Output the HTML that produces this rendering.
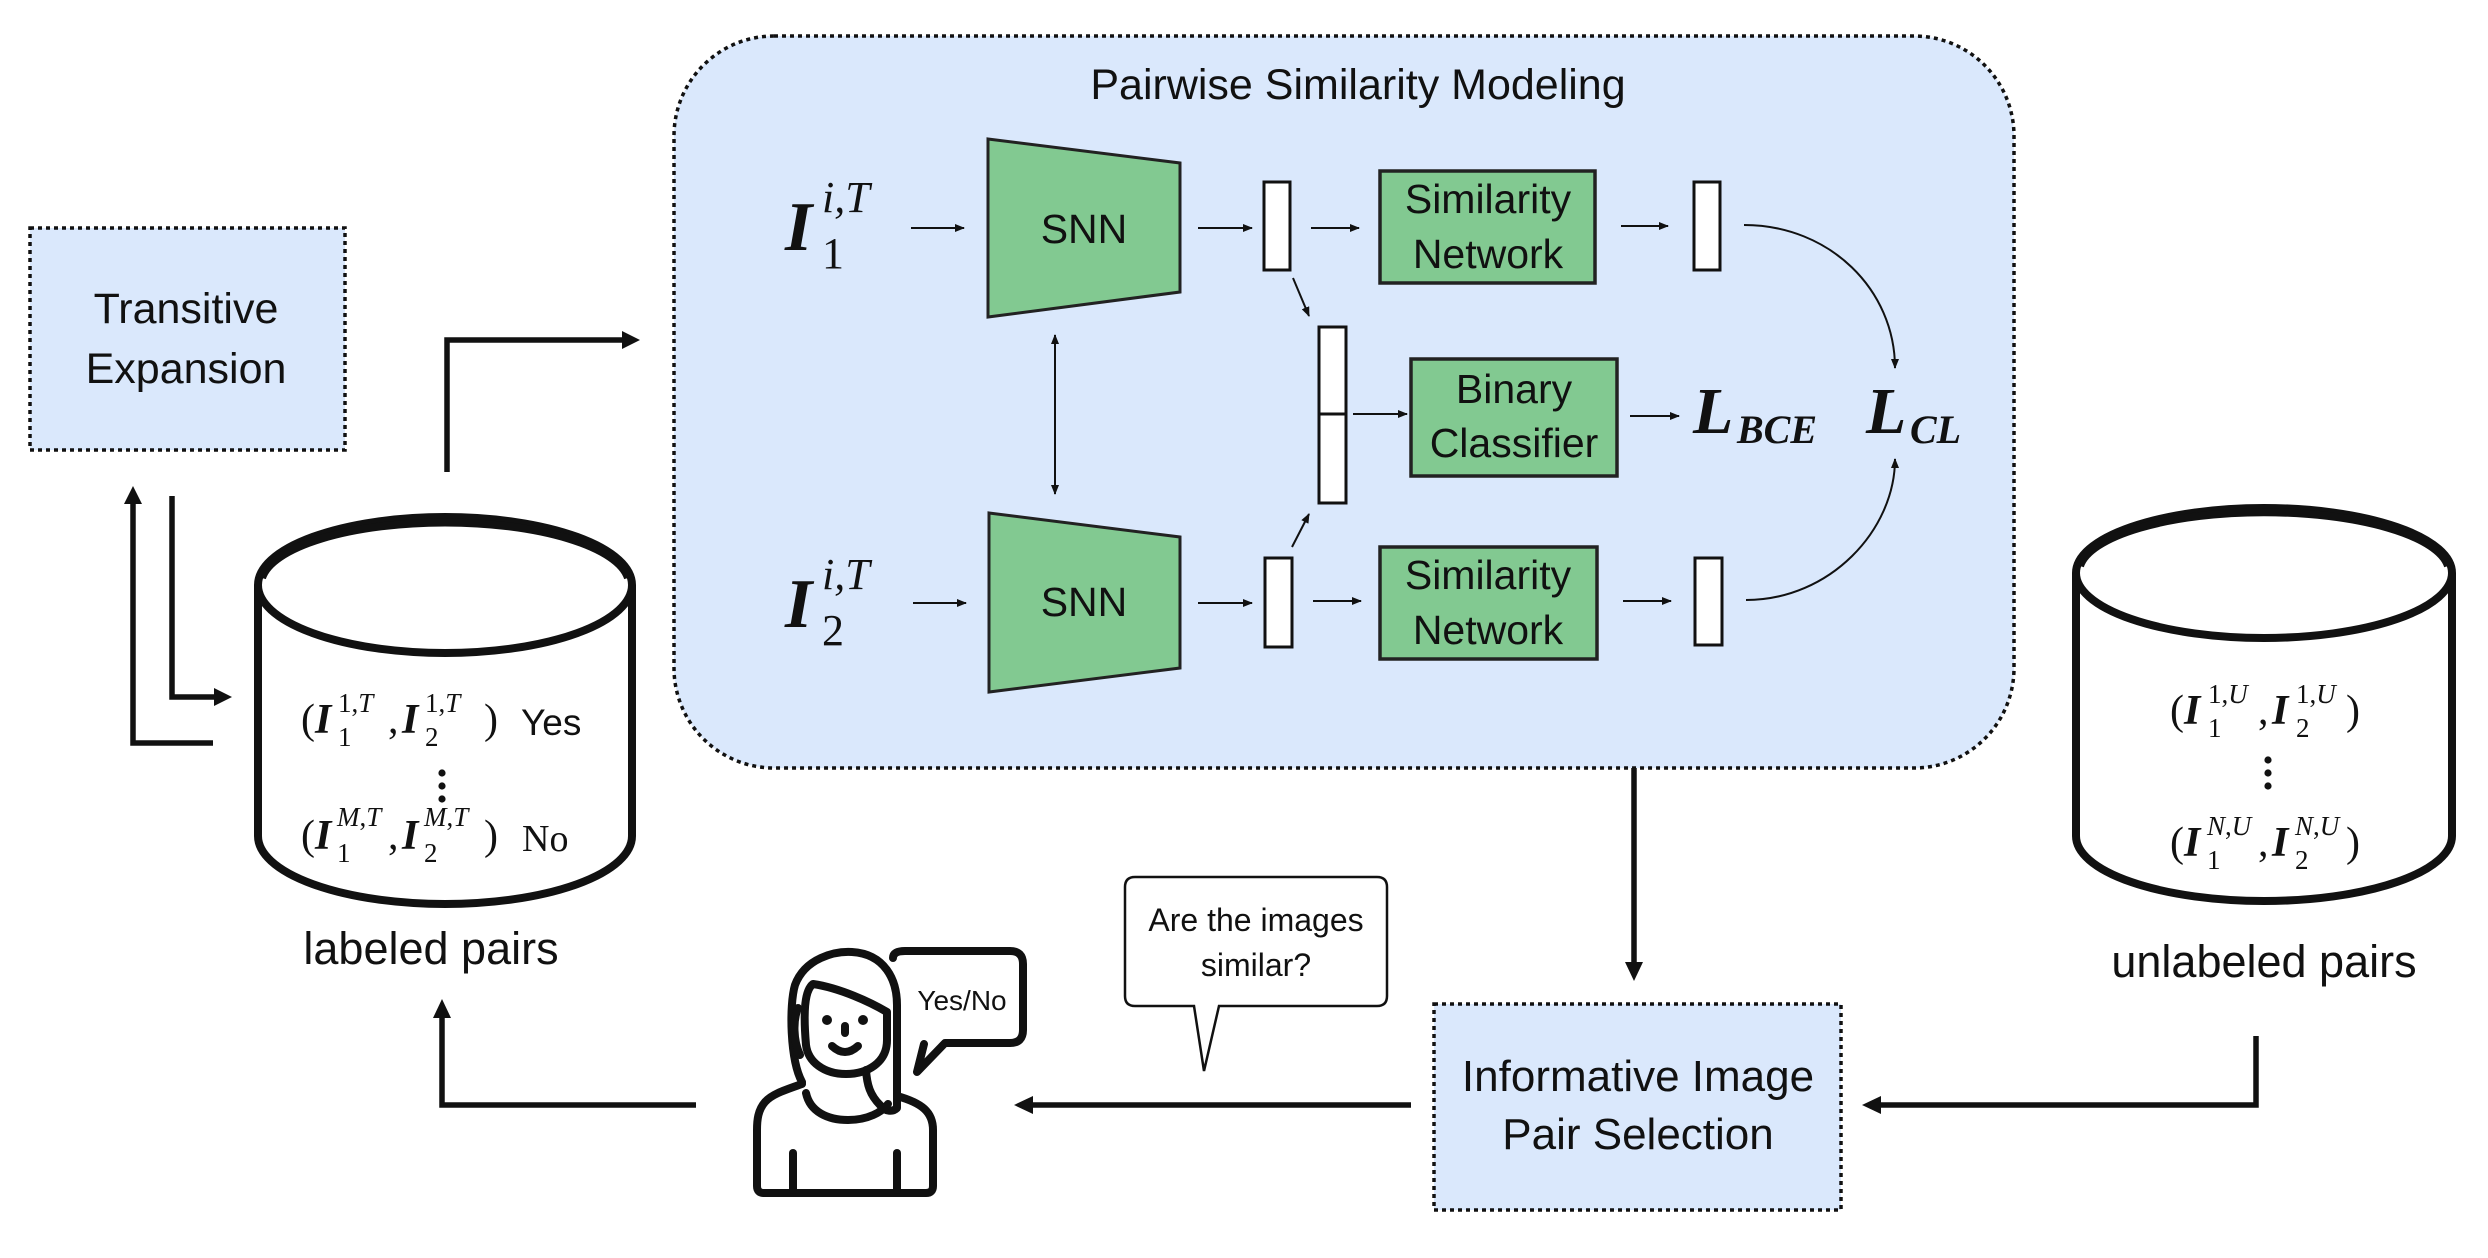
<!DOCTYPE html>
<html><head><meta charset="utf-8"><style>
html,body{margin:0;padding:0;background:#fff;}
svg{display:block;}
.s{font-family:"Liberation Sans",sans-serif;fill:#111;}
.m{font-family:"Liberation Serif",serif;fill:#111;}
.bi{font-family:"Liberation Serif",serif;font-weight:bold;font-style:italic;fill:#111;}
.it{font-family:"Liberation Serif",serif;font-style:italic;fill:#111;}
</style></head><body>
<svg width="2488" height="1258" viewBox="0 0 2488 1258" xmlns="http://www.w3.org/2000/svg">
<defs>
<marker id="a" markerWidth="10" markerHeight="8" refX="9" refY="4" orient="auto" markerUnits="userSpaceOnUse">
<path d="M0,0 L10,4 L0,8 Z" fill="#111"/></marker>
<marker id="as" markerWidth="10" markerHeight="8" refX="1" refY="4" orient="auto" markerUnits="userSpaceOnUse">
<path d="M10,0 L0,4 L10,8 Z" fill="#111"/></marker>
</defs>

<rect x="674" y="36" width="1340" height="732" rx="100" fill="#dae8fc" stroke="#111" stroke-width="3.5" stroke-dasharray="4 4"/>
<text x="1358" y="99" class="s" font-size="43" text-anchor="middle">Pairwise Similarity Modeling</text>

<rect x="30" y="228" width="315" height="222" fill="#dae8fc" stroke="#111" stroke-width="3.5" stroke-dasharray="4 4"/>
<text x="186" y="323" class="s" font-size="43" text-anchor="middle">Transitive</text>
<text x="186" y="383" class="s" font-size="43" text-anchor="middle">Expansion</text>

<rect x="1434" y="1004" width="407" height="206" fill="#dae8fc" stroke="#111" stroke-width="3.5" stroke-dasharray="4 4"/>
<text x="1638" y="1091" class="s" font-size="44" text-anchor="middle">Informative Image</text>
<text x="1638" y="1149" class="s" font-size="44" text-anchor="middle">Pair Selection</text>

<polygon points="988,139 1180,163 1180,292 988,317" fill="#82c991" stroke="#222" stroke-width="3"/>
<text x="1084" y="243" class="s" font-size="41" text-anchor="middle">SNN</text>
<polygon points="989,513 1180,537 1180,668 989,692" fill="#82c991" stroke="#222" stroke-width="3"/>
<text x="1084" y="616" class="s" font-size="41" text-anchor="middle">SNN</text>

<text x="785" y="250" class="bi" font-size="70">I</text>
<text x="822" y="212" class="it" font-size="44">i,T</text>
<text x="822" y="268" class="m" font-size="44">1</text>
<text x="785" y="627" class="bi" font-size="70">I</text>
<text x="822" y="589" class="it" font-size="44">i,T</text>
<text x="822" y="645" class="m" font-size="44">2</text>

<g stroke="#111" stroke-width="2" fill="none">
<line x1="911" y1="228" x2="964" y2="228" marker-end="url(#a)"/>
<line x1="913" y1="603" x2="966" y2="603" marker-end="url(#a)"/>
<line x1="1055" y1="335" x2="1055" y2="494" marker-end="url(#a)" marker-start="url(#as)"/>
<line x1="1198" y1="228" x2="1252" y2="228" marker-end="url(#a)"/>
<line x1="1198" y1="603" x2="1252" y2="603" marker-end="url(#a)"/>
<line x1="1311" y1="228" x2="1359" y2="228" marker-end="url(#a)"/>
<line x1="1313" y1="601" x2="1361" y2="601" marker-end="url(#a)"/>
<line x1="1621" y1="226" x2="1668" y2="226" marker-end="url(#a)"/>
<line x1="1623" y1="601" x2="1671" y2="601" marker-end="url(#a)"/>
<line x1="1293" y1="278" x2="1309" y2="316" marker-end="url(#a)"/>
<line x1="1292" y1="547" x2="1309" y2="514" marker-end="url(#a)"/>
<line x1="1353" y1="414" x2="1407" y2="414" marker-end="url(#a)"/>
<line x1="1630" y1="416" x2="1679" y2="416" marker-end="url(#a)"/>
<path d="M1744,225 C1830,225 1895,290 1895,368" marker-end="url(#a)"/>
<path d="M1746,600 C1830,600 1895,530 1895,459" marker-end="url(#a)"/>
</g>

<g fill="#fff" stroke="#111" stroke-width="3">
<rect x="1264" y="182" width="26" height="88"/>
<rect x="1265" y="558" width="27" height="89"/>
<rect x="1694" y="182" width="26" height="88"/>
<rect x="1695" y="558" width="27" height="87"/>
<rect x="1319" y="327" width="27" height="176"/>
<line x1="1319" y1="414" x2="1346" y2="414"/>
</g>

<rect x="1380" y="171" width="215" height="112" fill="#82c991" stroke="#222" stroke-width="3.5"/>
<text x="1488" y="213" class="s" font-size="41" text-anchor="middle">Similarity</text>
<text x="1488" y="268" class="s" font-size="41" text-anchor="middle">Network</text>
<rect x="1380" y="547" width="217" height="112" fill="#82c991" stroke="#222" stroke-width="3.5"/>
<text x="1488" y="589" class="s" font-size="41" text-anchor="middle">Similarity</text>
<text x="1488" y="644" class="s" font-size="41" text-anchor="middle">Network</text>
<rect x="1411" y="359" width="206" height="117" fill="#82c991" stroke="#222" stroke-width="3.5"/>
<text x="1514" y="403" class="s" font-size="41" text-anchor="middle">Binary</text>
<text x="1514" y="457" class="s" font-size="41" text-anchor="middle">Classifier</text>

<text x="1693" y="433" class="bi" font-size="66">L</text>
<text x="1737" y="443" class="bi" font-size="40">BCE</text>
<text x="1866" y="433" class="bi" font-size="66">L</text>
<text x="1910" y="443" class="bi" font-size="40">CL</text>

<g stroke="#111" stroke-width="5.5" fill="none">
<polyline points="213,743 133,743 133,500"/>
<polyline points="172,496 172,697 216,697"/>
<polyline points="447,472 447,340 624,340"/>
<line x1="1634" y1="768" x2="1634" y2="964"/>
<polyline points="2256,1036 2256,1105 1880,1105"/>
<line x1="1411" y1="1105" x2="1030" y2="1105"/>
<polyline points="696,1105 442,1105 442,1015"/>
</g>
<g fill="#111">
<polygon points="133,486 124,504 142,504"/>
<polygon points="232,697 214,688 214,706"/>
<polygon points="640,340 622,331 622,349"/>
<polygon points="1634,981 1625,962 1643,962"/>
<polygon points="1862,1105 1881,1096 1881,1114"/>
<polygon points="1014,1105 1033,1096 1033,1114"/>
<polygon points="442,999 433,1018 451,1018"/>
</g>

<path d="M258,585 L258,836 A187,68 0 0 0 632,836 L632,585" fill="#fff" stroke="#111" stroke-width="8"/>
<ellipse cx="445" cy="585" rx="187" ry="68" fill="#fff" stroke="#111" stroke-width="8"/>
<path d="M262,578 A184,62 0 0 1 628,578" fill="none" stroke="#111" stroke-width="8"/>
<g>
<text x="301" y="733" class="m" font-size="42">(</text>
<text x="315" y="733" class="bi" font-size="42">I</text>
<text x="338" y="712" class="m" font-size="27">1,<tspan font-style="italic">T</tspan></text>
<text x="338" y="746" class="m" font-size="27">1</text>
<text x="388" y="733" class="m" font-size="42">,</text>
<text x="402" y="733" class="bi" font-size="42">I</text>
<text x="425" y="712" class="m" font-size="27">1,<tspan font-style="italic">T</tspan></text>
<text x="425" y="746" class="m" font-size="27">2</text>
<text x="484" y="733" class="m" font-size="42">)</text>
<text x="521" y="735" class="s" font-size="37">Yes</text>
<circle cx="442" cy="773" r="3.6" fill="#111"/>
<circle cx="442" cy="786" r="3.6" fill="#111"/>
<circle cx="442" cy="799" r="3.6" fill="#111"/>
<text x="301" y="849" class="m" font-size="42">(</text>
<text x="315" y="849" class="bi" font-size="42">I</text>
<text x="337" y="826" class="m" font-size="27"><tspan font-style="italic">M</tspan>,<tspan font-style="italic">T</tspan></text>
<text x="337" y="862" class="m" font-size="27">1</text>
<text x="388" y="849" class="m" font-size="42">,</text>
<text x="402" y="849" class="bi" font-size="42">I</text>
<text x="424" y="826" class="m" font-size="27"><tspan font-style="italic">M</tspan>,<tspan font-style="italic">T</tspan></text>
<text x="424" y="862" class="m" font-size="27">2</text>
<text x="484" y="849" class="m" font-size="42">)</text>
<text x="522" y="851" class="m" font-size="38">No</text>
</g>
<text x="431" y="964" class="s" font-size="45" text-anchor="middle">labeled pairs</text>

<path d="M2076,573 L2076,836 A188,65 0 0 0 2452,836 L2452,573" fill="#fff" stroke="#111" stroke-width="8"/>
<ellipse cx="2264" cy="573" rx="188" ry="65" fill="#fff" stroke="#111" stroke-width="8"/>
<path d="M2080,566 A185,60 0 0 1 2448,566" fill="none" stroke="#111" stroke-width="8"/>
<g>
<text x="2170" y="724" class="m" font-size="42">(</text>
<text x="2184" y="724" class="bi" font-size="42">I</text>
<text x="2208" y="703" class="m" font-size="27">1,<tspan font-style="italic">U</tspan></text>
<text x="2208" y="737" class="m" font-size="27">1</text>
<text x="2258" y="724" class="m" font-size="42">,</text>
<text x="2272" y="724" class="bi" font-size="42">I</text>
<text x="2296" y="703" class="m" font-size="27">1,<tspan font-style="italic">U</tspan></text>
<text x="2296" y="737" class="m" font-size="27">2</text>
<text x="2346" y="724" class="m" font-size="42">)</text>
<circle cx="2268" cy="760" r="3.6" fill="#111"/>
<circle cx="2268" cy="773" r="3.6" fill="#111"/>
<circle cx="2268" cy="786" r="3.6" fill="#111"/>
<text x="2170" y="856" class="m" font-size="42">(</text>
<text x="2184" y="856" class="bi" font-size="42">I</text>
<text x="2207" y="835" class="m" font-size="27"><tspan font-style="italic">N</tspan>,<tspan font-style="italic">U</tspan></text>
<text x="2207" y="869" class="m" font-size="27">1</text>
<text x="2258" y="856" class="m" font-size="42">,</text>
<text x="2272" y="856" class="bi" font-size="42">I</text>
<text x="2295" y="835" class="m" font-size="27"><tspan font-style="italic">N</tspan>,<tspan font-style="italic">U</tspan></text>
<text x="2295" y="869" class="m" font-size="27">2</text>
<text x="2346" y="856" class="m" font-size="42">)</text>
</g>
<text x="2264" y="977" class="s" font-size="45" text-anchor="middle">unlabeled pairs</text>

<path d="M1135,877 L1377,877 Q1387,877 1387,887 L1387,996 Q1387,1006 1377,1006 L1219,1006 L1204,1071 L1194,1006 L1135,1006 Q1125,1006 1125,996 L1125,887 Q1125,877 1135,877 Z" fill="#fff" stroke="#111" stroke-width="2.5"/>
<text x="1256" y="931" class="s" font-size="32" text-anchor="middle">Are the images</text>
<text x="1256" y="976" class="s" font-size="32" text-anchor="middle">similar?</text>

<g fill="none" stroke="#111" stroke-width="8" stroke-linecap="round" stroke-linejoin="round">
<path d="M893,958 Q893,951 905,951 L1010,951 Q1023,951 1023,964 L1023,1030 Q1023,1043 1010,1043 L945,1043 L917,1072 L924,1044"/>
<path d="M802,1082 C790,1060 789,1005 795,985 C805,958 835,951 852,952 C885,954 897,980 897,1005 L897,1108 C893,1112 885,1112 880,1105 C870,1095 867,1085 866,1070"/>
<path d="M806,1045 C803,1010 805,990 813,984 C840,988 870,1002 887,1012 L887,1040 C887,1063 867,1074 846,1074 C824,1074 808,1062 806,1045 Z"/>
<path d="M798,1008 C793,1020 793,1040 800,1055"/>
<path d="M802,1084 C785,1090 772,1094 765,1102 C758,1110 757,1120 757,1130 L757,1186 Q757,1193 764,1193 L926,1193 Q933,1193 933,1186 L933,1130 C933,1112 922,1103 897,1096"/>
<path d="M806,1093 C810,1112 828,1120 848,1120 C868,1120 882,1112 888,1104"/>
<path d="M793,1153 L793,1190"/>
<path d="M897,1153 L897,1190"/>
<path d="M832,1046 Q845,1058 858,1046"/>
<path d="M845,1026 L845,1033"/>
</g>
<circle cx="827" cy="1020" r="5" fill="#111"/>
<circle cx="863" cy="1020" r="5" fill="#111"/>
<text x="962" y="1010" class="s" font-size="28" text-anchor="middle">Yes/No</text>
</svg>
</body></html>
